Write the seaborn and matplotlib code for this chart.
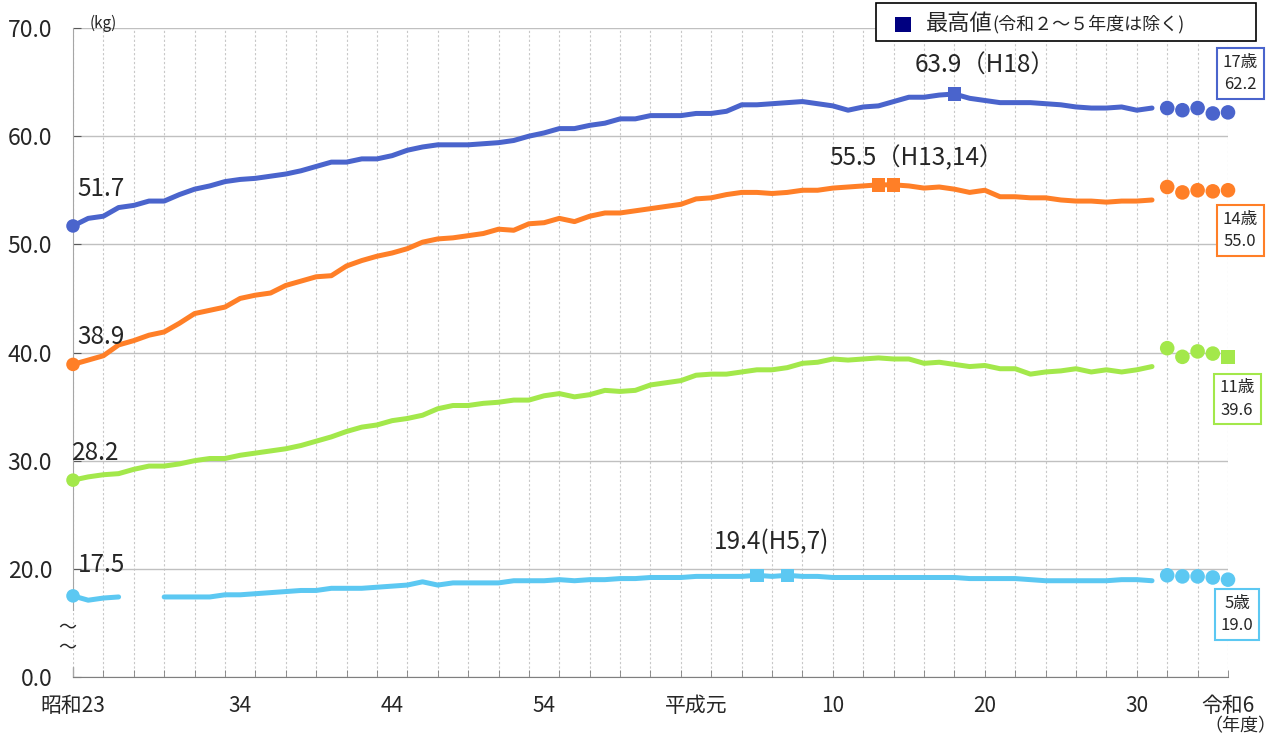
import numpy as np
import pandas as pd
import matplotlib
matplotlib.use("Agg")
import matplotlib.pyplot as plt
import seaborn as sns
from matplotlib.patches import Rectangle
from matplotlib.text import Annotation

sns.set_style("white")
plt.rcParams['font.family'] = ['Noto Sans CJK JP', 'DejaVu Sans']

# 年度 (昭和23 = 1948 ... 令和元 = 2019)
years = list(range(1948, 2020))
recent_years = [2020, 2021, 2022, 2023, 2024]

w17 = [51.7, 52.4, 52.6, 53.4, 53.6, 54.0, 54.0, 54.6, 55.1, 55.4,
       55.8, 56.0, 56.1, 56.3, 56.5, 56.8, 57.2, 57.6, 57.6, 57.9,
       57.9, 58.2, 58.7, 59.0, 59.2, 59.2, 59.2, 59.3, 59.4, 59.6,
       60.0, 60.3, 60.7, 60.7, 61.0, 61.2, 61.6, 61.6, 61.9, 61.9,
       61.9, 62.1, 62.1, 62.3, 62.9, 62.9, 63.0, 63.1, 63.2, 63.0,
       62.8, 62.4, 62.7, 62.8, 63.2, 63.6, 63.6, 63.8, 63.9, 63.5,
       63.3, 63.1, 63.1, 63.1, 63.0, 62.9, 62.7, 62.6, 62.6, 62.7,
       62.4, 62.6]
w14 = [38.9, 39.3, 39.7, 40.7, 41.1, 41.6, 41.9, 42.7, 43.6, 43.9,
       44.2, 45.0, 45.3, 45.5, 46.2, 46.6, 47.0, 47.1, 48.0, 48.5,
       48.9, 49.2, 49.6, 50.2, 50.5, 50.6, 50.8, 51.0, 51.4, 51.3,
       51.9, 52.0, 52.4, 52.1, 52.6, 52.9, 52.9, 53.1, 53.3, 53.5,
       53.7, 54.2, 54.3, 54.6, 54.8, 54.8, 54.7, 54.8, 55.0, 55.0,
       55.2, 55.3, 55.4, 55.5, 55.5, 55.4, 55.2, 55.3, 55.1, 54.8,
       55.0, 54.4, 54.4, 54.3, 54.3, 54.1, 54.0, 54.0, 53.9, 54.0,
       54.0, 54.1]
w11 = [28.2, 28.5, 28.7, 28.8, 29.2, 29.5, 29.5, 29.7, 30.0, 30.2,
       30.2, 30.5, 30.7, 30.9, 31.1, 31.4, 31.8, 32.2, 32.7, 33.1,
       33.3, 33.7, 33.9, 34.2, 34.8, 35.1, 35.1, 35.3, 35.4, 35.6,
       35.6, 36.0, 36.2, 35.9, 36.1, 36.5, 36.4, 36.5, 37.0, 37.2,
       37.4, 37.9, 38.0, 38.0, 38.2, 38.4, 38.4, 38.6, 39.0, 39.1,
       39.4, 39.3, 39.4, 39.5, 39.4, 39.4, 39.0, 39.1, 38.9, 38.7,
       38.8, 38.5, 38.5, 38.0, 38.2, 38.3, 38.5, 38.2, 38.4, 38.2,
       38.4, 38.7]
w5 = [17.5, 17.1, 17.3, 17.4, np.nan, np.nan, 17.4, 17.4, 17.4, 17.4,
      17.6, 17.6, 17.7, 17.8, 17.9, 18.0, 18.0, 18.2, 18.2, 18.2,
      18.3, 18.4, 18.5, 18.8, 18.5, 18.7, 18.7, 18.7, 18.7, 18.9,
      18.9, 18.9, 19.0, 18.9, 19.0, 19.0, 19.1, 19.1, 19.2, 19.2,
      19.2, 19.3, 19.3, 19.3, 19.3, 19.4, 19.3, 19.4, 19.3, 19.3,
      19.2, 19.2, 19.2, 19.2, 19.2, 19.2, 19.2, 19.2, 19.2, 19.1,
      19.1, 19.1, 19.1, 19.0, 18.9, 18.9, 18.9, 18.9, 18.9, 19.0,
      19.0, 18.9]

r17 = [62.6, 62.4, 62.6, 62.1, 62.2]
r14 = [55.3, 54.8, 55.0, 54.9, 55.0]
r11 = [40.4, 39.6, 40.1, 39.9, 39.6]
r5 = [19.4, 19.3, 19.3, 19.2, 19.0]

ages = ['17歳', '14歳', '11歳', '5歳']
colors = {'17歳': '#4A64CC', '14歳': '#FF7F27', '11歳': '#A3E84B', '5歳': '#5CC8F2'}

# 最高値 (令和2～5年度は除く)
max_17 = [2006]
max_14 = [2001, 2002]
max_11 = [2024]
max_5 = [1993, 1995]

first_labels = ['51.7', '38.9', '28.2', '17.5']
max_labels = ['63.9（H18）', '55.5（H13,14）', '', '19.4(H5,7)']
box_labels = ['17歳\n62.2', '14歳\n55.0', '11歳\n39.6', '5歳\n19.0']
xlabel_years = [1948, 1959, 1969, 1979, 1989, 1998, 2008, 2018, 2024]
xlabel_text = ['昭和23', '34', '44', '54', '平成元', '10', '20', '30', '令和6']

main = {'17歳': w17, '14歳': w14, '11歳': w11, '5歳': w5}
recent = {'17歳': r17, '14歳': r14, '11歳': r11, '5歳': r5}
maxes = {'17歳': max_17, '14歳': max_14, '11歳': max_11, '5歳': max_5}

rows = []
for age in ages:
    seg = 0
    for yr, v in zip(years, main[age]):
        if np.isnan(v):
            seg += 1
            continue
        rows.append((age, yr, v, f'{age}-{seg}'))
df = pd.DataFrame(rows, columns=['age', 'year', 'kg', 'seg'])

rec = pd.DataFrame([(a, y, v) for a in ages for y, v in zip(recent_years, recent[a])],
                   columns=['age', 'year', 'kg'])
allv = pd.concat([df[['age', 'year', 'kg']], rec])
mx = pd.concat([allv[(allv.age == a) & (allv.year.isin(maxes[a]))] for a in ages])
rec_dots = rec.merge(mx, how='left', indicator=True)
rec_dots = rec_dots[rec_dots['_merge'] == 'left_only']
first = df.groupby('age', sort=False).first().reset_index()

fig = plt.figure(figsize=(12.74, 7.42), dpi=100)
W, H = 1274, 742
ax = fig.add_axes([73 / W, 1 - 677 / H, (1228 - 73) / W, (677 - 28) / H])

sns.lineplot(data=df, x='year', y='kg', hue='age', units='seg', estimator=None,
             palette=colors, linewidth=3.6, legend=False, ax=ax, zorder=3)
sns.scatterplot(data=first, x='year', y='kg', hue='age', palette=colors, s=95,
                marker='o', linewidth=0, legend=False, ax=ax, zorder=4, clip_on=False)
sns.scatterplot(data=rec_dots, x='year', y='kg', hue='age', palette=colors, s=110,
                marker='o', linewidth=0, legend=False, ax=ax, zorder=4, clip_on=False)
sns.scatterplot(data=mx, x='year', y='kg', hue='age', palette=colors, s=95,
                marker='s', linewidth=0, legend=False, ax=ax, zorder=4, clip_on=False)

ax.set_xlim(1948, 2024)
ax.set_ylim(10, 70)
ax.set_xlabel('')
ax.set_ylabel('')

# y axis (0～20 is cut)
ax.set_yticks([10, 20, 30, 40, 50, 60, 70],
              ['0.0', '20.0', '30.0', '40.0', '50.0', '60.0', '70.0'])
ax.tick_params(axis='y', direction='in', length=6, color='#595959', pad=15,
               labelsize=16.5, left=True)
ax.grid(axis='y', color='#C0C0C0', linewidth=1)

ax.set_xticks(xlabel_years, xlabel_text)
ax.set_xticks(list(range(1948, 2025, 2)), minor=True)
ax.xaxis.remove_overlapping_locs = False
ax.tick_params(axis='x', which='major', length=0, pad=13, labelsize=15)
ax.tick_params(axis='x', which='minor', direction='in', length=5, color='#7F7F7F',
               bottom=True)
ax.grid(axis='x', which='minor', color='#C8C8C8', linestyle=(0, (2, 2)), linewidth=0.8)
ax.grid(axis='x', which='major', visible=False)

for s in ['top', 'right']:
    ax.spines[s].set_visible(False)
ax.spines['bottom'].set_color('#7F7F7F')
ax.spines['left'].set_color('#A6A6A6')
ax.spines['left'].set_bounds(16.2, 70)
ax.plot([1948, 1948], [10, 10.9], color='#A6A6A6', linewidth=1, clip_on=False)
ax.text(1947.6, 14.6, '～', ha='center', va='center', fontsize=13, clip_on=False)
ax.text(1947.6, 12.7, '～', ha='center', va='center', fontsize=13, clip_on=False)

ax.text(1949.1, 70.4, '(kg)', ha='left', va='center', fontsize=11)

# labels
first_pos = [(1948.26, 55.1), (1948.26, 41.4), (1947.93, 30.7), (1948.33, 20.4)]
for (x, y), t in zip(first_pos, first_labels):
    ax.text(x, y, t, ha='left', va='center', fontsize=17.5)
max_pos = [(2003.4, 66.5), (1997.8, 58.0), None, (1990.2, 22.5)]
for p, t in zip(max_pos, max_labels):
    if p:
        ax.text(p[0], p[1], t, ha='left', va='center', fontsize=17.5)
box_pos = [(2024.8, 65.8), (2024.8, 51.3), (2024.6, 35.7), (2024.6, 15.75)]
for (x, y), t, a in zip(box_pos, box_labels, ages):
    ax.text(x, y, t, ha='center', va='center', fontsize=12, linespacing=1.4,
            clip_on=False, zorder=6,
            bbox=dict(boxstyle='square,pad=0.35', fc='white', ec=colors[a], lw=1.5))

fig.text(1240 / W, 1 - 726 / H, '（年度）', ha='center', va='center', fontsize=13)

# legend box
fig.add_artist(Rectangle((876 / W, 1 - 41 / H), 380 / W, 38 / H, transform=fig.transFigure,
                         fc='white', ec='black', lw=1.2, zorder=5))
fig.add_artist(Rectangle((895 / W, 1 - 32 / H), 16 / W, 15 / H, transform=fig.transFigure,
                         fc='#000080', ec='none', zorder=6))
t1 = fig.text(926 / W, 1 - 23 / H, '最高値', ha='left', va='center', fontsize=16, zorder=6)
fig.add_artist(Annotation('(令和２～５年度は除く)', xy=(1.0, 0.45), xycoords=t1,
                          ha='left', va='center', fontsize=13, zorder=7))

fig.savefig('out.png', dpi=100)
